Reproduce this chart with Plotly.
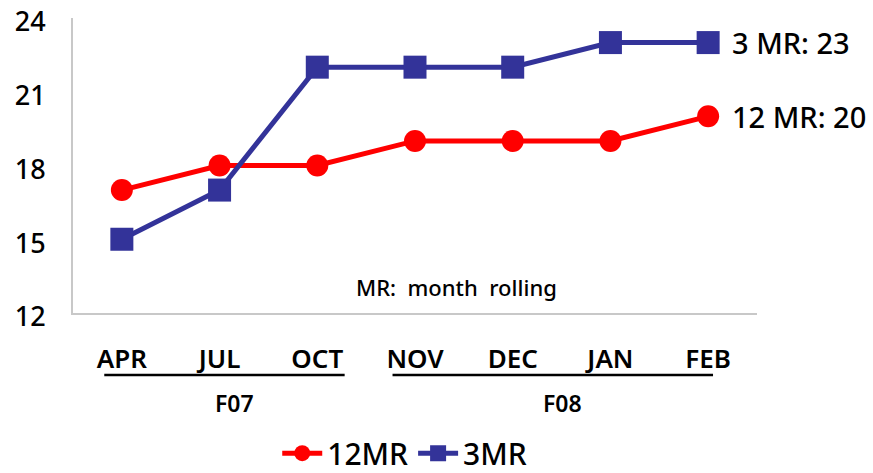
import plotly.graph_objects as go

# Monthly rolling averages
months = ["APR", "JUL", "OCT", "NOV", "DEC", "JAN", "FEB"]
mr12 = [17, 18, 18, 19, 19, 19, 20]
mr3 = [15, 17, 22, 22, 22, 23, 23]
y_ticks = [12, 15, 18, 21, 24]

# Fiscal-year groups: (label, first month index, last month index)
fiscal_groups = [("F07", 0, 2), ("F08", 3, 6)]
# Underline extension beyond the first/last month, in category units
underline_pad = [(0.18, 0.28), (0.23, 0.05)]

RED = "#FF0000"
BLUE = "#333399"
FONT = "Noto Sans"

fig = go.Figure()
fig.add_trace(go.Scatter(
    x=months, y=mr12, name="12MR", mode="lines+markers",
    line=dict(color=RED, width=5),
    marker=dict(symbol="circle", size=22, color=RED),
))
fig.add_trace(go.Scatter(
    x=months, y=mr3, name="3MR", mode="lines+markers",
    line=dict(color=BLUE, width=5),
    marker=dict(symbol="square", size=23, color=BLUE),
))

annotations = [
    dict(x=months[-1], y=mr3[-1], xref="x", yref="y", text=f"3 MR: {mr3[-1]}",
         showarrow=False, xanchor="left", xshift=22,
         font=dict(family=FONT, size=29, color="#000000", weight=500)),
    dict(x=months[-1], y=mr12[-1], xref="x", yref="y", text=f"12 MR: {mr12[-1]}",
         showarrow=False, xanchor="left", xshift=22,
         font=dict(family=FONT, size=29, color="#000000", weight=500)),
    dict(x=0.561, y=0.088, xref="paper", yref="paper", text="MR:  month  rolling",
         showarrow=False, xanchor="center", yanchor="middle",
         font=dict(family=FONT, size=22, color="#000000", weight=500)),
]

shapes = []
for (label, i0, i1), (p0, p1) in zip(fiscal_groups, underline_pad):
    x0, x1 = i0 - p0, i1 + p1
    shapes.append(dict(type="line", xref="x", yref="paper",
                       x0=x0, x1=x1, y0=-0.21, y1=-0.21,
                       line=dict(color="#000000", width=2.5)))
    annotations.append(dict(x=(x0 + x1) / 2 + 0.1, y=-0.305, xref="x", yref="paper",
                            text=label, showarrow=False, yanchor="middle",
                            font=dict(family=FONT, size=23, color="#000000", weight=600)))

fig.update_layout(
    width=873, height=473,
    margin=dict(l=73, r=116, t=18, b=160, autoexpand=False),
    paper_bgcolor="white", plot_bgcolor="white",
    font=dict(family=FONT, color="#000000"),
    showlegend=True,
    legend=dict(orientation="h", x=0.485, xanchor="center",
                yref="container", y=0.042, yanchor="middle",
                font=dict(family=FONT, size=30, color="#000000", weight=500),
                itemwidth=40, tracegroupgap=0),
    annotations=annotations,
    shapes=shapes,
)
fig.update_xaxes(
    type="category", range=[-0.5, len(months) - 0.5], automargin=False,
    showgrid=False, showline=True, linecolor="#C8C8C8", linewidth=2,
    ticks="", ticklabelstandoff=22,
    tickfont=dict(family=FONT, size=26, color="#000000", weight=600),
)
fig.update_yaxes(
    range=[12, 24], tickvals=y_ticks, showgrid=False, zeroline=False,
    automargin=False, ticklabeloverflow="allow", ticklabelshift=4,
    showline=True, linecolor="#C8C8C8", linewidth=2,
    ticks="", ticklabelstandoff=20,
    tickfont=dict(family=FONT, size=27, color="#000000", weight=500),
)

fig.write_html("out.html")
